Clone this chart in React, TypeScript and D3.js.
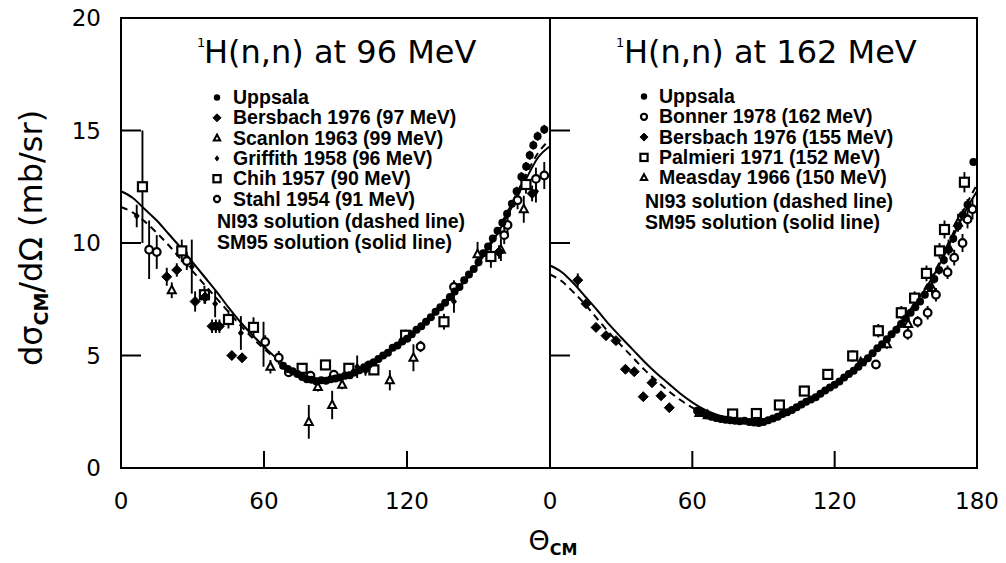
import React from "react";
import * as d3 from "d3";

// [angle (deg), dσ/dΩ (mb/sr), error, optional x-error]
type Pt = [number, number, number, number?];

const CURVE_ANGLES = [0,5,10,15,20,25,30,35,40,45,50,55,60,65,70,75,80,85,90,95,100,105,110,115,120,125,130,135,140,145,150,155,160,165,170,175,180];
const SM95_96 = [12.3,12.0,11.5,11.0,10.4,9.8,9.15,8.5,7.85,7.15,6.5,5.92,5.4,4.9,4.5,4.2,4.02,3.95,3.98,4.1,4.32,4.62,4.98,5.37,5.8,6.25,6.72,7.22,7.78,8.4,9.1,9.9,10.8,11.8,12.85,13.8,14.3];
const NI93_96 = [11.6,11.35,10.95,10.45,9.9,9.3,8.75,8.15,7.55,6.95,6.35,5.8,5.3,4.85,4.47,4.18,4.0,3.93,3.96,4.08,4.3,4.6,4.96,5.36,5.8,6.26,6.75,7.27,7.84,8.48,9.2,10.02,10.95,11.98,13.05,14.0,14.6];
const SM95_162 = [9.0,8.7,8.2,7.6,7.0,6.37,5.8,5.25,4.7,4.2,3.75,3.3,2.92,2.6,2.38,2.24,2.16,2.13,2.17,2.3,2.5,2.77,3.08,3.42,3.78,4.18,4.6,5.05,5.55,6.1,6.75,7.45,8.25,9.2,10.3,11.4,12.3];
const NI93_162 = [8.6,8.3,7.8,7.25,6.62,6.0,5.45,4.9,4.35,3.87,3.42,3.02,2.68,2.43,2.28,2.19,2.14,2.12,2.16,2.28,2.48,2.75,3.06,3.4,3.76,4.16,4.58,5.04,5.55,6.12,6.78,7.5,8.32,9.3,10.45,11.6,12.6];

// ---- 96 MeV data ----
const UPPSALA_96: Pt[] = [
  [68,4.55,0.12],[70,4.4,0.12],[72,4.3,0.12],[74,4.18,0.12],[76,4.05,0.12],[78,3.95,0.12],[80,3.92,0.12],[82,3.85,0.12],[84,3.9,0.12],[86,3.88,0.12],
  [88,3.95,0.12],[90,3.98,0.12],[92,4.02,0.12],[94,4.1,0.12],[96,4.12,0.12],[98,4.25,0.12],[100,4.35,0.12],[102,4.48,0.12],[104,4.6,0.12],[106,4.7,0.12],
  [108,4.85,0.12],[110,5.0,0.12],[112,5.12,0.12],[114,5.35,0.12],[116,5.45,0.12],[118,5.62,0.12],[120,5.75,0.12],[122,5.95,0.12],[124,6.15,0.12],[126,6.3,0.12],
  [128,6.5,0.12],[130,6.7,0.12],[132,6.95,0.12],[134,7.15,0.12],[136,7.35,0.15],[138,7.6,0.15],[140,7.85,0.15],[142,8.05,0.15],[144,8.35,0.15],[146,8.6,0.15],
  [148,8.85,0.15],[150,9.15,0.15],[152,9.55,0.15],[154,9.85,0.15],[156,10.2,0.15],[158,10.55,0.15],[160,10.9,0.15],[162,11.3,0.15],[164,11.75,0.15],[166,12.3,0.2],
  [168,12.95,0.2],[170,13.4,0.2],[171.5,13.9,0.2],[173,14.35,0.2],[174.8,14.75,0.2],[177.6,15.05,0.2,1.5]
];
const BERSBACH_96: Pt[] = [
  [19.2,8.5,0.4],[23.4,8.8,0.3],[31.1,7.4,0.45],[35.3,7.6,0.3],[38.2,6.3,0.3],[39.8,6.3,0.3],[41.3,6.3,0.3],[46.5,5.0,0.2],[50.8,4.9,0.2],[102.6,4.4,0.3],[158.6,9.6,0.3],[172.5,12.2,0.35]
];
const SCANLON_96: Pt[] = [
  [21.3,7.9,0.35],[62.7,4.5,0.3],[78.8,2.05,0.75],[82.6,3.6,0.2],[88.6,2.8,0.63],[92.8,3.7,0.2],[112.8,3.9,0.45],[122.7,4.9,0.6],[149.6,9.5,0.55],[159.4,9.7,0.5],[169,11.5,0.6]
];
const GRIFFITH_96: Pt[] = [
  [6.6,11.2,0.5],[29.7,8.95,1.2],[39.5,7.3,0.6],[50.3,6.0,0.75],[59.8,5.5,1.0],[99.1,4.5,0.5],[139.7,7.4,0.5],[174.1,12.3,0.5]
];
const CHIH_96: Pt[] = [
  [9.0,12.5,2.5],[25.5,9.65,0.5],[35.0,7.7,0.4],[45.1,6.6,0.4],[55.6,6.25,0.45],[76.0,4.43,0.2],[85.8,4.58,0.2],[95.6,4.43,0.2],[106.1,4.36,0.2],[119.4,5.9,0.25],[135.5,6.5,0.35],[155.2,9.4,0.5],[169.9,12.6,0.4]
];
const STAHL_96: Pt[] = [
  [11.8,9.7,1.3],[15.0,9.6,0.75],[27.6,9.2,0.4],[60.5,5.6,0.3],[66.2,4.9,0.3],[70.4,4.25,0.2],[79.5,4.1,0.2],[89.3,4.15,0.2],[125.7,5.4,0.25],[139.7,8.05,0.3],[160.8,10.35,0.4],[162.2,10.8,0.4],[166.4,11.9,0.4],[174.1,12.85,0.5],[177.6,13.0,0.6]
];

// ---- 162 MeV data ----
const UPPSALA_162: Pt[] = [
  [62,2.55,0.08],[64,2.45,0.08],[66,2.35,0.08],[68,2.28,0.08],[70,2.22,0.08],[72,2.18,0.08],[74,2.15,0.08],[76,2.12,0.08],[78,2.1,0.08],[80,2.08,0.08],
  [82,2.1,0.08],[84,2.05,0.08],[86,2.02,0.08],[88,2.0,0.08],[90,2.05,0.08],[92,2.12,0.08],[94,2.2,0.08],[96,2.28,0.08],[98,2.4,0.08],[100,2.48,0.08],
  [102,2.58,0.08],[104,2.7,0.08],[106,2.82,0.1],[108,2.95,0.1],[110,3.05,0.1],[112,3.15,0.1],[114,3.3,0.1],[116,3.45,0.1],[118,3.58,0.1],[120,3.7,0.1],
  [122,3.85,0.1],[124,4.02,0.1],[126,4.18,0.12],[128,4.32,0.12],[130,4.5,0.12],[132,4.7,0.12],[134,4.88,0.12],[136,5.1,0.12],[138,5.32,0.12],[140,5.5,0.12],
  [142,5.72,0.15],[144,5.95,0.15],[146,6.15,0.15],[148,6.4,0.15],[150,6.65,0.15],[152,6.9,0.15],[154,7.15,0.15],[156,7.4,0.15],[158,7.7,0.15],[160,8.05,0.15],
  [162,8.4,0.2],[164,8.8,0.2],[166,9.25,0.2],[168,9.7,0.2],[170,10.2,0.2],[172,10.75,0.2],[174,11.25,0.25],[176,11.7,0.25],[178.5,13.6,0.15,1.5]
];
const BONNER_162: Pt[] = [
  [137.4,4.6,0.2],[150.8,5.95,0.25],[155,6.5,0.25],[159.2,6.9,0.3],[162.7,7.7,0.3],[167.6,8.7,0.3],[170.4,9.35,0.35],[173.9,10.0,0.4],[176,11.05,0.4],[178.1,11.5,0.45]
];
const BERSBACH_162: Pt[] = [
  [11.7,8.35,0.3],[15.2,7.3,0.15],[19.4,6.25,0.15],[23.6,5.88,0.15],[27.8,5.66,0.15],[31.8,4.39,0.15],[35.5,4.28,0.15],[39.3,3.17,0.15],[43.0,3.79,0.15],[46.8,3.21,0.15],[50.3,2.68,0.15]
];
const PALMIERI_162: Pt[] = [
  [77,2.4,0.15],[87,2.42,0.15],[96.7,2.8,0.15],[107.2,3.42,0.2],[117.1,4.16,0.2],[127.6,4.98,0.25],[138.4,6.1,0.3],[148.1,6.9,0.3],[153.7,7.55,0.3],[158.7,8.65,0.35],[164.2,9.65,0.35],[166.3,10.6,0.4],[174.7,12.7,0.45]
];
const MEASDAY_162: Pt[] = [
  [63,2.45,0.1],[66.5,2.35,0.1],[131,4.7,0.2],[142,5.5,0.2],[151,6.4,0.25],[161,8.0,0.3],[168,9.8,0.35],[172,10.9,0.4]
];

const Y_TICKS = [0, 5, 10, 15, 20];
const X_TICKS_LEFT = [0, 60, 120];
const X_TICKS_RIGHT = [0, 60, 120, 180];

const LEGEND_96 = ["Uppsala", "Bersbach 1976 (97 MeV)", "Scanlon 1963 (99 MeV)", "Griffith 1958 (96 MeV)", "Chih 1957 (90 MeV)", "Stahl 1954 (91 MeV)"];
const LEGEND_162 = ["Uppsala", "Bonner 1978 (162 MeV)", "Bersbach 1976 (155 MeV)", "Palmieri 1971 (152 MeV)", "Measday 1966 (150 MeV)"];

type Kind = "dot" | "diamond" | "triangle" | "smalldiamond" | "square" | "circle";

const TOP = 18, BOTTOM = 468;
const yScale = d3.scaleLinear().domain([0, 20]).range([BOTTOM, TOP]);
const xLeft = d3.scaleLinear().domain([0, 180]).range([121, 550]);
const xRight = d3.scaleLinear().domain([0, 180]).range([550, 977]);

function Marker({ kind, x, y, s = 1 }: { kind: Kind; x: number; y: number; s?: number }) {
  const k = "#000";
  switch (kind) {
    case "dot":
      return <circle cx={x} cy={y} r={4 * s} fill={k} />;
    case "circle":
      return <circle cx={x} cy={y} r={3.8 * s} fill="#fff" stroke={k} strokeWidth={2.2} />;
    case "square":
      return <rect x={x - 4.5 * s} y={y - 4.5 * s} width={9 * s} height={9 * s} fill="#fff" stroke={k} strokeWidth={2.2} />;
    case "triangle": {
      const a = 4 * s;
      return <path d={`M${x},${y - a * 1.1}L${x + a},${y + a * 0.75}L${x - a},${y + a * 0.75}Z`} fill="#fff" stroke={k} strokeWidth={2} />;
    }
    case "diamond": {
      const a = 5 * s;
      return <path d={`M${x},${y - a}L${x + a},${y}L${x},${y + a}L${x - a},${y}Z`} fill={k} stroke={k} strokeWidth={1} />;
    }
    case "smalldiamond": {
      const a = 3.8 * s;
      return <path d={`M${x},${y - a}L${x + a * 0.8},${y}L${x},${y + a}L${x - a * 0.8},${y}Z`} fill={k} />;
    }
  }
  return null;
}

function Series({ data, kind, xs }: { data: Pt[]; kind: Kind; xs: d3.ScaleLinear<number, number> }) {
  return (
    <g>
      {data.map((p, i) => {
        const [a, v, e, xe] = p;
        const cx = xs(a), cy = yScale(v);
        return (
          <g key={i}>
            <line x1={cx} x2={cx} y1={yScale(v - e)} y2={yScale(v + e)} stroke="#000" strokeWidth={1.9} />
            {xe ? <line x1={xs(a - xe)} x2={xs(Math.min(180, a + xe))} y1={cy} y2={cy} stroke="#000" strokeWidth={1.9} /> : null}
            <Marker kind={kind} x={cx} y={cy} />
          </g>
        );
      })}
    </g>
  );
}

function Curve({ vals, xs, dashed }: { vals: number[]; xs: d3.ScaleLinear<number, number>; dashed?: boolean }) {
  const line = d3.line<number>().x((_, i) => xs(CURVE_ANGLES[i])).y((d) => yScale(d)).curve(d3.curveMonotoneX);
  return <path d={line(vals) || ""} fill="none" stroke="#000" strokeWidth={2} strokeDasharray={dashed ? "7,5" : undefined} />;
}

function Frame({ xs }: { xs: d3.ScaleLinear<number, number> }) {
  const x0 = xs(0), x1 = xs(180);
  return (
    <g stroke="#000" strokeWidth={2}>
      <rect x={x0} y={TOP} width={x1 - x0} height={BOTTOM - TOP} fill="none" />
      {[5, 10, 15].map((v) => <line key={v} x1={x0} x2={x0 + 20} y1={yScale(v)} y2={yScale(v)} />)}
      {[60, 120].map((a) => <line key={a} x1={xs(a)} x2={xs(a)} y1={BOTTOM} y2={BOTTOM - 17} />)}
    </g>
  );
}

const SANS = "'DejaVu Sans', sans-serif";
const LEG = "'Liberation Sans', Arial, sans-serif";

export default function App() {
  const kinds96: Kind[] = ["dot", "diamond", "triangle", "smalldiamond", "square", "circle"];
  const kinds162: Kind[] = ["dot", "circle", "diamond", "square", "triangle"];
  return (
    <svg width={1006} height={563} style={{ position: "absolute", left: 0, top: 0, background: "#fff" }}>
      <rect width={1006} height={563} fill="#fff" />
      <Frame xs={xLeft} />
      <Frame xs={xRight} />

      {/* curves */}
      <Curve vals={SM95_96} xs={xLeft} />
      <Curve vals={NI93_96} xs={xLeft} dashed />
      <Curve vals={SM95_162} xs={xRight} />
      <Curve vals={NI93_162} xs={xRight} dashed />

      {/* data 96 MeV */}
      <Series data={GRIFFITH_96} kind="smalldiamond" xs={xLeft} />
      <Series data={SCANLON_96} kind="triangle" xs={xLeft} />
      <Series data={CHIH_96} kind="square" xs={xLeft} />
      <Series data={STAHL_96} kind="circle" xs={xLeft} />
      <Series data={BERSBACH_96} kind="diamond" xs={xLeft} />
      <Series data={UPPSALA_96} kind="dot" xs={xLeft} />

      {/* data 162 MeV */}
      <Series data={MEASDAY_162} kind="triangle" xs={xRight} />
      <Series data={PALMIERI_162} kind="square" xs={xRight} />
      <Series data={BONNER_162} kind="circle" xs={xRight} />
      <Series data={BERSBACH_162} kind="diamond" xs={xRight} />
      <Series data={UPPSALA_162} kind="dot" xs={xRight} />

      {/* y tick labels */}
      <g fontFamily={SANS} fontSize={23} textAnchor="end">
        {Y_TICKS.map((v) => <text key={v} x={101} y={yScale(v) + 8.3}>{v}</text>)}
      </g>
      {/* x tick labels */}
      <g fontFamily={SANS} fontSize={23} textAnchor="middle">
        {X_TICKS_LEFT.map((a) => <text key={"l" + a} x={xLeft(a)} y={508.5}>{a}</text>)}
        {X_TICKS_RIGHT.map((a) => <text key={"r" + a} x={xRight(a)} y={508.5}>{a}</text>)}
      </g>

      {/* axis titles */}
      <text fontFamily={SANS} fontSize={32} textAnchor="middle" transform="translate(42,238) rotate(-90)">
        dσ<tspan fontSize={19} fontWeight="bold" dy={6}>CM</tspan><tspan dy={-6}>/dΩ (mb/sr)</tspan>
      </text>
      <text fontFamily={SANS} fontSize={27} textAnchor="middle" x={553} y={550}>
        Θ<tspan fontSize={16} fontWeight="bold" dy={5}>CM</tspan>
      </text>

      {/* panel titles */}
      <text fontFamily={SANS} fontSize={13} x={197} y={47}>1</text>
      <text fontFamily={SANS} fontSize={32} x={204} y={63}>H(n,n) at 96 MeV</text>
      <text fontFamily={SANS} fontSize={13} x={616} y={47}>1</text>
      <text fontFamily={SANS} fontSize={32} x={624} y={63}>H(n,n) at 162 MeV</text>

      {/* legends */}
      <g fontFamily={LEG} fontSize={19.5} fontWeight="bold">
        {LEGEND_96.map((t, i) => {
          const by = 104 + i * 20.3;
          return (
            <g key={t}>
              <Marker kind={kinds96[i]} x={217} y={by - 6.5} s={0.8} />
              <text x={233} y={by}>{t}</text>
            </g>
          );
        })}
        <text x={217} y={227.5}>NI93 solution (dashed line)</text>
        <text x={217} y={249}>SM95 solution (solid line)</text>

        {LEGEND_162.map((t, i) => {
          const by = 103 + i * 20.3;
          return (
            <g key={t}>
              <Marker kind={kinds162[i]} x={644} y={by - 6.5} s={0.8} />
              <text x={659} y={by}>{t}</text>
            </g>
          );
        })}
        <text x={645} y={208}>NI93 solution (dashed line)</text>
        <text x={645} y={228.5}>SM95 solution (solid line)</text>
      </g>
    </svg>
  );
}
